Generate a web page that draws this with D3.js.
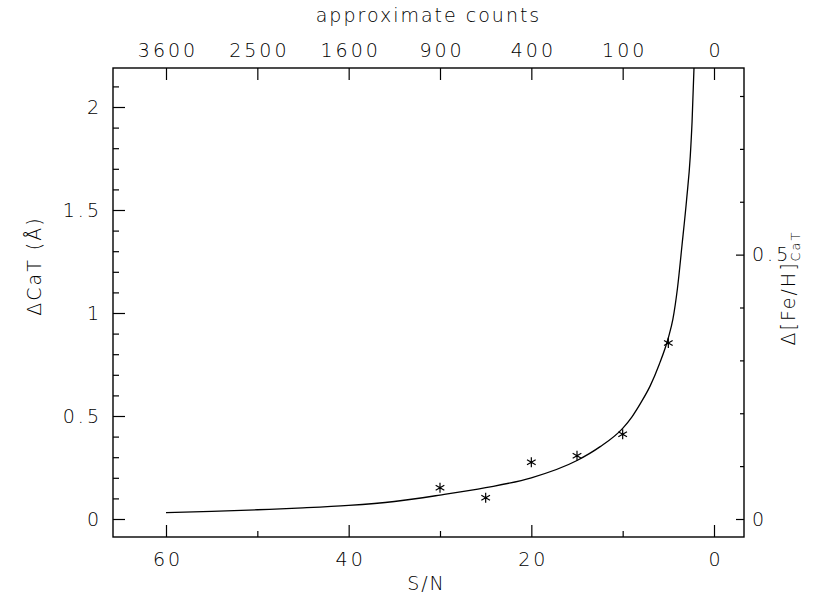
<!DOCTYPE html>
<html>
<head>
<meta charset="utf-8">
<script src="https://cdn.jsdelivr.net/npm/d3@7"></script>
<style>
  body { margin: 0; background: #fff; }
  svg text { font-family: "DejaVu Sans", sans-serif; font-weight: 200; font-size: 19px; fill: #000; letter-spacing: 2px; }
  svg .tick text { letter-spacing: 3px; }
</style>
</head>
<body>
<div class="chart"></div>
<script>
// curve: S/N vs delta CaT
var curveSN  = [60, 55, 50, 45, 40, 35, 30, 25, 20, 15, 12.5, 10, 9, 8, 7, 6, 5, 4.5, 4, 3.5, 3, 2.6, 2.4, 2.19];
var curveCaT = [0.031, 0.037, 0.045, 0.054, 0.066, 0.085, 0.116, 0.152, 0.200, 0.284, 0.35, 0.44, 0.495, 0.565, 0.645, 0.75, 0.88, 0.97, 1.12, 1.33, 1.55, 1.76, 1.93, 2.19];

// measured points (asterisks)
var pointSN  = [30, 25, 20, 15, 10, 5];
var pointCaT = [0.152, 0.103, 0.275, 0.307, 0.411, 0.854];

// tick labels
var snTicks = [60, 40, 20, 0];
var snMinor = [50, 30, 10];
var countTicks = [3600, 2500, 1600, 900, 400, 100, 0];
var catTicks = [0, 0.5, 1, 1.5, 2];
var fehTicks = [0, 0.5];
var fehMinor = [0.1, 0.2, 0.3, 0.4, 0.6, 0.7, 0.8];

var width = 829, height = 600;
var pLeft = 113, pRight = 744, pTop = 68, pBottom = 537;

var svg = d3.select('.chart').append('svg')
    .attr('width', width)
    .attr('height', height);

var x = d3.scaleLinear().domain([60, 0]).range([166, 714]);
var y = d3.scaleLinear().domain([0, 2]).range([519, 107]);
// right axis: [Fe/H] unit is about 2.57 CaT units
var yFeH = d3.scaleLinear().domain([0, 0.8]).range([519, 96]);

svg.append('clipPath').attr('id', 'plotclip')
    .append('rect')
    .attr('x', pLeft).attr('y', pTop)
    .attr('width', pRight - pLeft).attr('height', pBottom - pTop);

// axes (ticks inward, no domain line)
var tickStroke = function(g) {
    g.select('.domain').remove();
    g.selectAll('line').attr('stroke', '#000').attr('stroke-width', 1.2);
};

svg.append('g')
    .attr('transform', 'translate(0,' + pBottom + ')')
    .call(d3.axisBottom(x).tickValues(snTicks).tickSize(-12).tickFormat(d3.format('d')))
    .call(tickStroke)
    .call(function(g) { g.selectAll('text').attr('dy', '0.35em').attr('y', 22).attr('x', 1.5); });

svg.append('g')
    .attr('transform', 'translate(0,' + pBottom + ')')
    .call(d3.axisBottom(x).tickValues(snMinor).tickSize(-6).tickFormat(''))
    .call(tickStroke);

svg.append('g')
    .attr('transform', 'translate(0,' + pTop + ')')
    .call(d3.axisTop(x).tickValues(countTicks.map(function(c) { return Math.sqrt(c); }))
        .tickSize(-12).tickFormat(function(d, i) { return countTicks[i]; }))
    .call(tickStroke)
    .call(function(g) { g.selectAll('text').attr('dy', null).attr('y', -11).attr('x', 1.5); });

svg.append('g')
    .attr('transform', 'translate(' + pLeft + ',0)')
    .call(d3.axisLeft(y).tickValues(catTicks).tickSize(-12).tickFormat(d3.format('')))
    .call(tickStroke)
    .call(function(g) { g.selectAll('text').attr('x', -11); });

svg.append('g')
    .attr('transform', 'translate(' + pLeft + ',0)')
    .call(d3.axisLeft(y).tickValues(d3.range(0, 22).map(function(i) { return i / 10; }).filter(function(d) { return Math.round(d * 10) % 5 != 0; }))
        .tickSize(-6).tickFormat(''))
    .call(tickStroke);

svg.append('g')
    .attr('transform', 'translate(' + pRight + ',0)')
    .call(d3.axisRight(yFeH).tickValues(fehTicks).tickSize(-8).tickFormat(d3.format('')))
    .call(tickStroke)
    .call(function(g) { g.selectAll('text').attr('x', 8); });

svg.append('g')
    .attr('transform', 'translate(' + pRight + ',0)')
    .call(d3.axisRight(yFeH).tickValues(fehMinor).tickSize(-4).tickFormat(''))
    .call(tickStroke);

// frame
svg.append('rect')
    .attr('x', pLeft).attr('y', pTop)
    .attr('width', pRight - pLeft).attr('height', pBottom - pTop)
    .attr('fill', 'none')
    .attr('stroke', '#000')
    .attr('stroke-width', 1.4);

// curve
var line = d3.line()
    .x(function(d) { return x(d[0]); })
    .y(function(d) { return y(d[1]); })
    .curve(d3.curveMonotoneX);

svg.append('path')
    .datum(d3.zip(curveSN, curveCaT))
    .attr('clip-path', 'url(#plotclip)')
    .attr('d', line)
    .attr('fill', 'none')
    .attr('stroke', '#000')
    .attr('stroke-width', 1.3);

// asterisks
svg.selectAll('.star')
    .data(d3.zip(pointSN, pointCaT))
    .enter().append('path')
    .attr('class', 'star')
    .attr('transform', function(d) { return 'translate(' + x(d[0]) + ',' + y(d[1]) + ')'; })
    .attr('d', d3.symbol().type(d3.symbolAsterisk).size(70))
    .attr('fill', 'none')
    .attr('stroke', '#000')
    .attr('stroke-width', 1.2);

// titles
svg.append('text')
    .attr('x', (pLeft + pRight) / 2).attr('y', 22)
    .attr('text-anchor', 'middle')
    .text('approximate counts');

svg.append('text')
    .attr('x', (pLeft + pRight) / 2 - 2).attr('y', 590)
    .attr('text-anchor', 'middle')
    .text('S/N');

svg.append('text')
    .attr('transform', 'translate(41,266) rotate(-90)')
    .attr('text-anchor', 'middle')
    .text('ΔCaT (Å)');

var rl = svg.append('text')
    .attr('transform', 'translate(795,288) rotate(-90)')
    .attr('text-anchor', 'middle');
rl.append('tspan').text('Δ[Fe/H]');
rl.append('tspan').attr('dy', 5).style('font-size', '13px').text('CaT');
</script>
</body>
</html>
